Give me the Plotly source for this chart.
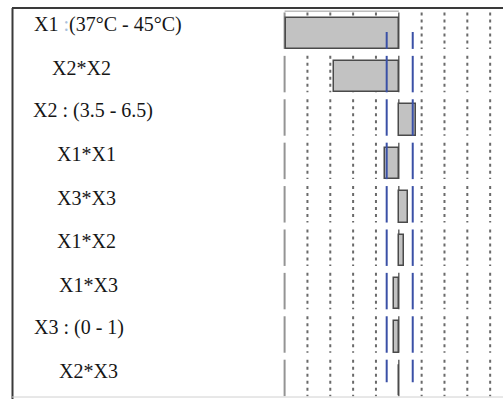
import plotly.graph_objects as go

# Sorted parameter estimates (effect size per model term)
terms = ["X1 :(37°C - 45°C)", "X2*X2", "X2 : (3.5 - 6.5)", "X1*X1", "X3*X3",
         "X1*X2", "X1*X3", "X3 : (0 - 1)", "X2*X3"]
estimates = [-4.94, -2.84, 0.74, -0.60, 0.40, 0.23, -0.21, -0.20, 0.03]
# Significance limits (blue reference lines)
limit_low = -0.53
limit_high = 0.61
# Reference grid values along the estimate axis
grid_edge = -5
grid_dotted = [-4, -3, -2, -1, 1, 2, 3, 4, 5]

# ---- layout / style settings ----
W, H = 503, 399
label_indent_px = [32, 50, 31, 55, 55, 55, 57, 32, 57]
seg_top, seg_bot = -0.45, 0.39          # per-row grid segment extent (row units)
bar_offset, bar_width = -0.33, 0.72
blue_extent = [(0.0, 0.39)] + [(seg_top, seg_bot)] * 7 + [(seg_top, 0.07)]

rows = list(range(len(terms)))
x_range = [-17.46, 4.562]
y_range = [8.456, -0.737]

fig = go.Figure()

# Bars
fig.add_trace(go.Bar(
    x=estimates, y=rows, base=0, orientation="h",
    width=bar_width, offset=bar_offset,
    marker=dict(color="#c2c2c2", line=dict(color="#4a4a4a", width=1.5)),
    hoverinfo="skip", showlegend=False,
))

# Blue significance limit lines, one segment per row
bx, by = [], []
for r, (t, b) in zip(rows, blue_extent):
    for lim in (limit_low, limit_high):
        bx += [lim, lim, None]
        by += [r + t, r + b, None]
fig.add_trace(go.Scatter(
    x=bx, y=by, mode="lines",
    line=dict(color="#3a50a6", width=2),
    hoverinfo="skip", showlegend=False,
))

shapes = []
# Per-row grid segments drawn beneath the bars
for r in rows:
    shapes.append(dict(type="line", xref="x", yref="y", layer="below",
                       x0=grid_edge, x1=grid_edge, y0=r + seg_top, y1=r + seg_bot,
                       line=dict(color="#949494", width=2)))
    for g in grid_dotted:
        shapes.append(dict(type="line", xref="x", yref="y", layer="below",
                           x0=g, x1=g, y0=r + seg_top, y1=r + seg_bot,
                           line=dict(color="#6a6a6a", width=2, dash="3px,4px")))
    shapes.append(dict(type="line", xref="x", yref="y", layer="below",
                       x0=0, x1=0, y0=r + seg_top, y1=r + seg_bot,
                       line=dict(color="#666666", width=1.5)))

# Header rule above the first row
shapes.append(dict(type="line", xref="x", yref="y", layer="below",
                   x0=grid_edge, x1=0, y0=-0.48, y1=-0.48,
                   line=dict(color="#9a9a9a", width=1)))

# Outer frame
shapes += [
    dict(type="line", xref="paper", yref="paper",
         x0=12.5 / W, x1=12.5 / W, y0=0, y1=1 - 8 / H,
         line=dict(color="#3a3a3a", width=2)),
    dict(type="line", xref="paper", yref="paper",
         x0=12 / W, x1=1, y0=1 - 8 / H, y1=1 - 8 / H,
         line=dict(color="#3a3a3a", width=2)),
    dict(type="line", xref="paper", yref="paper",
         x0=12 / W, x1=1, y0=1 - 397 / H, y1=1 - 397 / H,
         line=dict(color="#d0d0d0", width=1)),
]

# Term labels
annotations = []
for r, term, ind in zip(rows, terms, label_indent_px):
    txt = term
    if term.startswith("X1 :"):
        txt = "X1 <span style='color:#a9c1dc'>:</span>" + term[4:]
    annotations.append(dict(
        text=txt, xref="paper", yref="y", x=ind / W, y=r - 0.18,
        xanchor="left", yanchor="middle", showarrow=False,
        font=dict(family="Liberation Serif, Times New Roman, serif",
                  size=20, color="#161616"),
    ))

fig.update_layout(
    width=W, height=H,
    margin=dict(l=0, r=0, t=0, b=0),
    paper_bgcolor="white", plot_bgcolor="white",
    xaxis=dict(range=x_range, visible=False, fixedrange=True),
    yaxis=dict(range=y_range, visible=False, fixedrange=True),
    shapes=shapes, annotations=annotations,
    bargap=0,
)

fig.write_html("out.html", config={"displayModeBar": False})
